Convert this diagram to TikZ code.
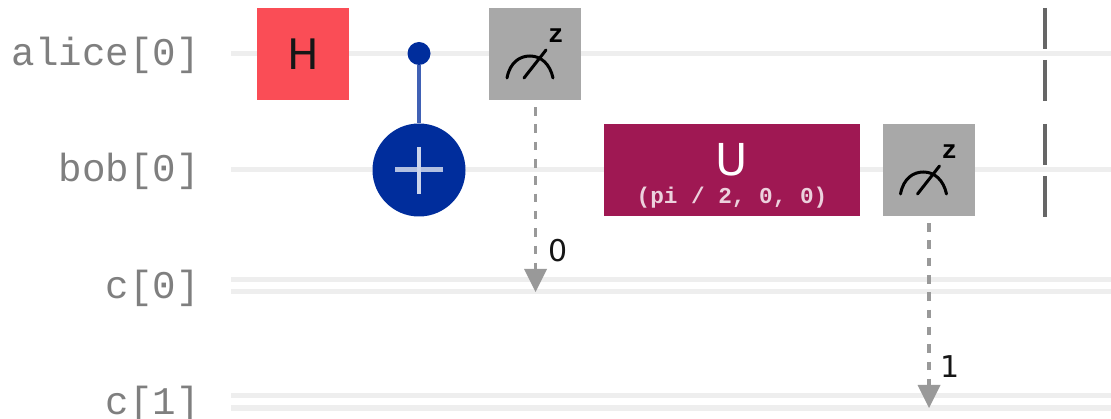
\documentclass[tikz,border=0pt]{standalone}
\usepackage{fontspec}
\setmainfont{DejaVu Sans}
\setmonofont{Liberation Mono}
\definecolor{wirec}{HTML}{EEEEEE}
\definecolor{labelc}{HTML}{7F7F7F}
\definecolor{hred}{HTML}{FA4D56}
\definecolor{mgray}{HTML}{A8A8A8}
\definecolor{umag}{HTML}{9F1853}
\definecolor{cblue}{HTML}{002D9C}
\definecolor{ctxt}{HTML}{161616}
\definecolor{measl}{HTML}{999999}
\tikzset{
  wire/.style={draw=wirec,line width=5pt},
  qlabel/.style={anchor=east,inner sep=0pt,text=labelc,font=\ttfamily\fontsize{39.2}{41}\selectfont},
  gatebox/.style={minimum width=92pt,minimum height=92pt,inner sep=0pt,draw=none},
  meas/.style={gatebox,fill=mgray},
  classic/.style={draw=measl,line width=3.2pt,dash pattern=on 8.5pt off 8.8pt},
  tipbox/.style={fill=measl,draw=none},
  bitlab/.style={anchor=west,inner sep=0pt,text=ctxt,font=\fontsize{30}{31}\selectfont},
  barrierline/.style={draw=black!60,line width=3.5pt,dash pattern=on 41pt off 11pt},
}
\newcommand{\dial}[1]{%
  \begin{scope}[shift={(#1)}]
    \draw[black,line width=3pt,line cap=round] (-28,24) .. controls (-25,8) and (-15,2) .. (-5,2) .. controls (6,2) and (15,10) .. (18,24);
    \draw[black,line width=3pt,line cap=round] (-11,24) -- (11,-4);
    \node[inner sep=0pt,text=black,font=\ttfamily\bfseries\fontsize{26}{26}\selectfont] at (21,-18) {z};
  \end{scope}}
\begin{document}
\begin{tikzpicture}[x=1pt,y=-1pt]
\useasboundingbox (0,0) rectangle (1111,419);
% wire endpoints
\foreach \n/\y in {qa/53.5,qb/170,ca/280,cb/292,da/396,db/408}{
  \coordinate (\n l) at (231,\y);
  \coordinate (\n r) at (1111,\y);
  \draw[wire] (\n l) -- (\n r);
}
% labels
\node[qlabel] (lalice) at (200,55) {alice[0]};
\node[qlabel] (lbob) at (200,171.5) {bob[0]};
\node[qlabel] (lc0) at (200,288) {c[0]};
\node[qlabel] (lc1) at (200,404) {c[1]};
% H
\node[gatebox,fill=hred,text=ctxt,font=\fontsize{42}{44}\selectfont] (h) at (303,54) {H};
% CNOT
\node[circle,fill=cblue,minimum size=23pt,inner sep=0pt] (ctl) at (419,53.5) {};
\node[circle,fill=cblue,minimum size=93pt,inner sep=0pt] (tgt) at (419,170) {};
\draw[cblue!75!white,line width=4pt] (ctl) -- (tgt);
\coordinate (pl) at (395,170);
\coordinate (pr) at (443,170);
\coordinate (pt) at (419,147);
\coordinate (pb) at (419,194);
\draw[white!70!cblue,line width=5pt] (pl) -- (pr);
\draw[white!80!cblue,line width=4.5pt] (pt) -- (pb);
% measures
\node[meas] (m0) at (535,54) {};
\dial{m0}
\node[meas] (m1) at (928.5,170) {};
\dial{m1}
% U
\node[minimum width=256pt,minimum height=92pt,inner sep=0pt,fill=umag] (u) at (732,170) {};
\node[inner sep=0pt,text=white,font=\fontsize{44}{46}\selectfont] (ut) at (732,160) {U};
\node[inner sep=0pt,text=white!80!umag,font=\ttfamily\bfseries\fontsize{22.7}{24}\selectfont] (up) at (732,198) {(pi / 2, 0, 0)};
% classical arrows
\coordinate (t0) at (535.5,292);
\coordinate (t1) at (929,408);
\draw[classic] (m0.south -| t0) ++(0,7) -- (535.5,272);
\draw[classic] (m1.south -| t1) ++(0,7) -- (929,388);
\fill[tipbox] (524,269) -- (547,269) -- (t0) -- cycle;
\fill[tipbox] (917.5,385) -- (940.5,385) -- (t1) -- cycle;
\node[bitlab] (b0) at (548,251) {0};
\node[bitlab] (b1) at (940,367) {1};
% barrier
\draw[barrierline] (1045,8) -- (1045,101);
\draw[barrierline] (1045,124) -- (1045,217);
\end{tikzpicture}
\end{document}
